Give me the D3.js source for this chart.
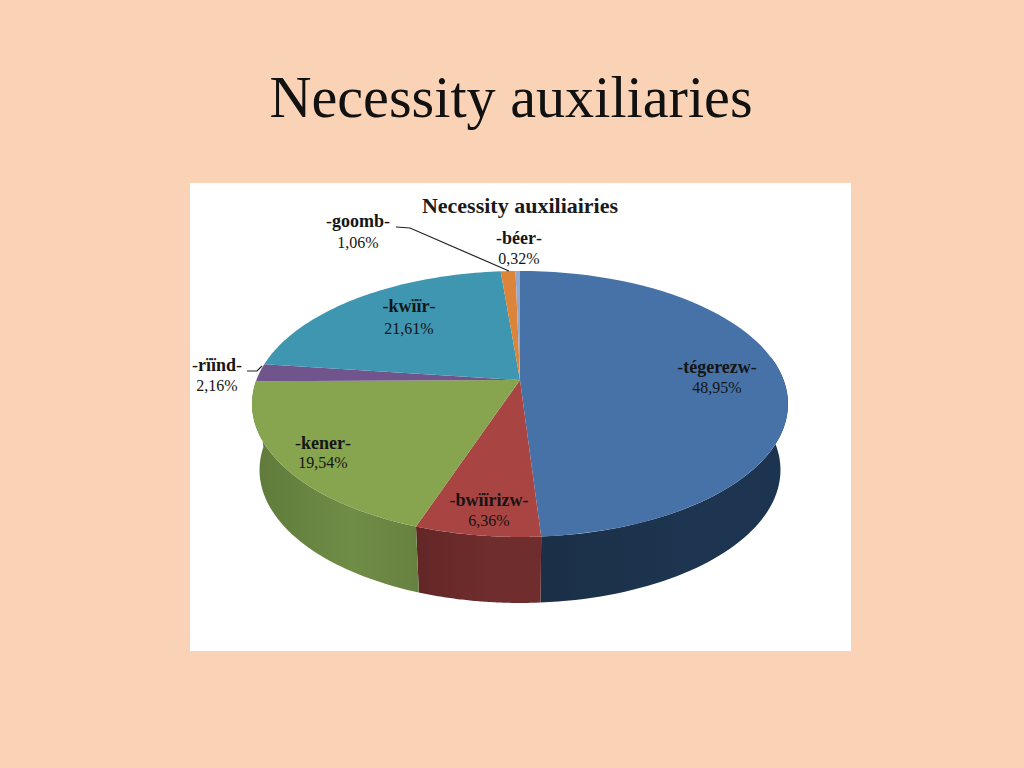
<!DOCTYPE html>
<html><head><meta charset="utf-8">
<script src="https://cdn.jsdelivr.net/npm/d3@7/dist/d3.min.js"></script>
<style>html,body{margin:0;padding:0;background:#fad3b6;overflow:hidden}svg{display:block}</style>
</head><body><svg id="c" width="1024" height="768"></svg>
<script>
const names = ["tégerezw","bwïïrizw","kener","rïïnd","kwïïr","goomb","béer"];
const shares = [48.95,6.36,19.54,2.16,21.61,1.06,0.32];
const shareLabels = ["48,95%","6,36%","19,54%","2,16%","21,61%","1,06%","0,32%"];
const topColors = ["#4672a8","#a84442","#87a44f","#6f558c","#3e96b0","#dc853a","#94a8cf"];
const wallStops = [["#1b2f47","#1d3550","#1c3450"],["#632626","#6f2e2d","#6f2e2d"],["#5f7a3a","#708d47","#678240"]];
const labelPos = [[717,373],[489,506],[323,449],[217,371],[409,312],[358,227],[519,244]];
const percentGap = [20,20,19,20,22,21,20];

const svg = d3.select("#c");
const fs = "'Liberation Serif',serif";
svg.append("rect").attr("width",1024).attr("height",768).attr("fill","#fad3b6");
svg.append("text").attr("x",511).attr("y",117).attr("text-anchor","middle")
  .attr("font-family",fs).attr("font-size",58.2).attr("fill","#111").text("Necessity auxiliaries");
svg.append("rect").attr("x",190).attr("y",183).attr("width",661).attr("height",468).attr("fill","#fff");
svg.append("text").attr("x",520).attr("y",213).attr("text-anchor","middle")
  .attr("font-family",fs).attr("font-weight","bold").attr("font-size",22).attr("fill","#1a1a1a").text("Necessity auxiliairies");

const cx=520, cy=380, k=-0.18, a=128.7, b=263.6, depth=66, taper=0.972;
const px = t => { const u=Math.sin(t), v=-Math.cos(t), d=1+k*v; return [cx+b*u/d, cy+a*v/d]; };
const low = t => { const p=px(t); return [cx+(p[0]-cx)*taper, p[1]+depth]; };
const arcs = d3.pie().sort(null).value(d=>d)(shares);
const line = d3.line();
const samples = (t0,t1) => d3.range(0,61).map(i=>t0+(t1-t0)*i/60);

const defs = svg.append("defs");
// walls: visible part of the rim only
const wallRange = [[Math.PI/2-Math.asin(0.18),arcs[0].endAngle],[arcs[1].startAngle,arcs[1].endAngle],[arcs[2].startAngle,Math.min(arcs[2].endAngle,1.5*Math.PI+Math.asin(0.18))]];
wallRange.forEach((r,i)=>{
  const ts=samples(r[0],r[1]);
  const xs=ts.map(t=>px(t)[0]);
  const g=defs.append("linearGradient").attr("id","w"+i).attr("gradientUnits","userSpaceOnUse")
    .attr("x1",d3.min(xs)).attr("x2",d3.max(xs)).attr("y1",0).attr("y2",0);
  wallStops[i].forEach((c,j)=>g.append("stop").attr("offset",[0,.6,1][j]).attr("stop-color",c));
  const pts=ts.map(px).concat(ts.slice().reverse().map(low));
  svg.append("path").attr("d",line(pts)+"Z").attr("fill",`url(#w${i})`);
});
// top faces
arcs.forEach((s,i)=>{
  const pts=[[cx,cy]].concat(samples(s.startAngle,s.endAngle).map(px));
  svg.append("path").attr("d",line(pts)+"Z").attr("fill",topColors[i]);
});
// leader lines
[[[396,227],[410,228],[509,271]],[[247,371],[257,371],[262,366]]].forEach(l=>
  svg.append("path").attr("d",line(l)).attr("fill","none").attr("stroke","#222").attr("stroke-width",1.2));
// labels
names.forEach((n,i)=>{
  const t=svg.append("text").attr("x",labelPos[i][0]).attr("y",labelPos[i][1]).attr("text-anchor","middle")
    .attr("font-family",fs).attr("font-size",18).attr("fill","#151515");
  t.append("tspan").text("-");
  t.append("tspan").attr("font-weight","bold").text(n);
  t.append("tspan").text("-");
  svg.append("text").attr("x",labelPos[i][0]).attr("y",labelPos[i][1]+percentGap[i]).attr("text-anchor","middle")
    .attr("font-family",fs).attr("font-size",16).attr("fill","#151515").text(shareLabels[i]);
});
</script></body></html>
